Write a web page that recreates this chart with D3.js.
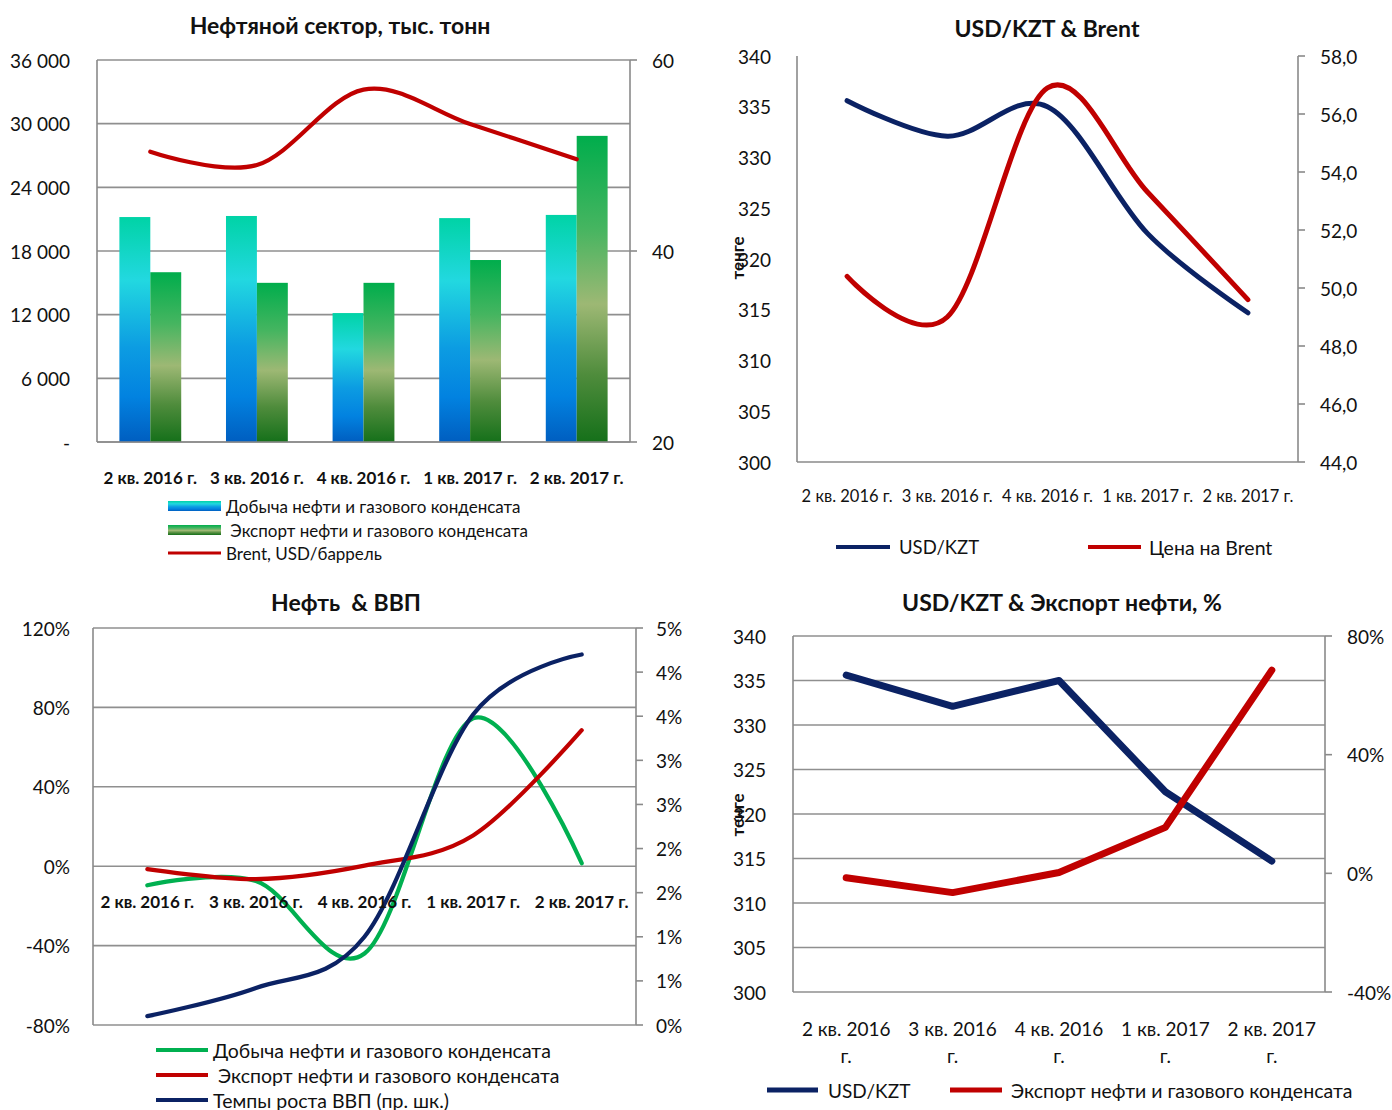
<!DOCTYPE html>
<html><head><meta charset="utf-8">
<script src="https://cdn.jsdelivr.net/npm/d3@7"></script>
<style>body{margin:0;background:#fff}svg{display:block}</style>
</head><body>
<script>
// ---------- DATA ----------
const categories = ["2 кв. 2016 г.", "3 кв. 2016 г.", "4 кв. 2016 г.", "1 кв. 2017 г.", "2 кв. 2017 г."];
const oilProduction = [21200, 21300, 12150, 21100, 21400];   // тыс. тонн
const oilExport = [16000, 15000, 15000, 17150, 28850];       // тыс. тонн
const brentPrice = [50.4, 49.0, 56.9, 53.3, 49.6];           // USD/баррель
const usdKzt = [335.6, 332.1, 335.0, 322.5, 314.7];          // тенге
const productionGrowth = [-9.6, -7.5, -44, 74.5, 1.5];       // %
const exportGrowth = [-1.5, -6.5, 0.3, 15.5, 68.5];          // %
const gdpGrowth = [0.1, 0.42, 1.0, 3.52, 4.2];               // %

const c1LeftTicks = [0, 6000, 12000, 18000, 24000, 30000, 36000];
const c1LeftLabels = ["-", "6 000", "12 000", "18 000", "24 000", "30 000", "36 000"];
const c1RightTicks = [20, 40, 60];
const c1RightLabels = ["20", "40", "60"];
const kztTicks = [300, 305, 310, 315, 320, 325, 330, 335, 340];
const kztLabels = ["300", "305", "310", "315", "320", "325", "330", "335", "340"];
const c2RightTicks = [44, 46, 48, 50, 52, 54, 56, 58];
const c2RightLabels = ["44,0", "46,0", "48,0", "50,0", "52,0", "54,0", "56,0", "58,0"];
const c3LeftTicks = [-80, -40, 0, 40, 80, 120];
const c3LeftLabels = ["-80%", "-40%", "0%", "40%", "80%", "120%"];
const c3RightTicks = [0, 0.5, 1, 1.5, 2, 2.5, 3, 3.5, 4, 4.5];
const c3RightLabels = ["0%", "1%", "1%", "2%", "2%", "3%", "3%", "4%", "4%", "5%"];
const c4RightTicks = [-40, 0, 40, 80];
const c4RightLabels = ["-40%", "0%", "40%", "80%"];

const titles = ["Нефтяной сектор, тыс. тонн", "USD/KZT & Brent", "Нефть  & ВВП", "USD/KZT & Экспорт нефти, %"];
const legend1 = ["Добыча нефти и газового конденсата", " Экспорт нефти и газового конденсата", "Brent, USD/баррель"];
const legend2 = ["USD/KZT", "Цена на Brent"];
const legend3 = ["Добыча нефти и газового конденсата", " Экспорт нефти и газового конденсата", "Темпы роста ВВП (пр. шк.)"];
const legend4 = ["USD/KZT", "Экспорт нефти и газового конденсата"];
const yTitle = "тенге";

// ---------- STYLE ----------
const FONT = "Lato, 'Open Sans', sans-serif";
const NAVY = "#0b2264", RED = "#c00000", GREEN = "#00b050";
const GRID = "#8f8f8f", AXIS = "#8a8a8a";

const svg = d3.select("body").append("svg").attr("width", 1392).attr("height", 1110)
  .style("font-family", FONT);

const defs = svg.append("defs");
function grad(id, stops) {
  const g = defs.append("linearGradient").attr("id", id).attr("x1", 0).attr("y1", 0).attr("x2", 0).attr("y2", 1);
  stops.forEach(([o, c]) => g.append("stop").attr("offset", o).attr("stop-color", c));
}
grad("gProd", [[0, "#00d3a6"], [0.28, "#22d8e0"], [0.58, "#0c9ce2"], [0.8, "#0282e0"], [1, "#005ec0"]]);
grad("gExp", [[0, "#00ad4c"], [0.3, "#45b560"], [0.55, "#9db874"], [0.78, "#4f8c3c"], [1, "#15701a"]]);

function text(x, y, s, o = {}) {
  return svg.append("text").attr("x", x).attr("y", y).text(s)
    .attr("font-size", o.size || 18).attr("font-weight", o.bold ? "bold" : "normal")
    .attr("text-anchor", o.anchor || "start").attr("dominant-baseline", "central")
    .attr("fill", o.fill || "#111")
    .attr("transform", o.rotate ? `rotate(${o.rotate},${x},${y})` : null)
    .style("white-space", "pre");
}
function hline(x0, x1, y, c = GRID, w = 1.6) {
  svg.append("line").attr("x1", x0).attr("x2", x1).attr("y1", y).attr("y2", y).attr("stroke", c).attr("stroke-width", w);
}
function vline(x, y0, y1, c = AXIS, w = 1.6) {
  svg.append("line").attr("x1", x).attr("x2", x).attr("y1", y0).attr("y2", y1).attr("stroke", c).attr("stroke-width", w);
}
function pointScale(x0, x1) {
  return d3.scaleBand().domain(categories).range([x0, x1]);
}
function smoothPath(xs, ys, vals, color, width, smooth = true) {
  const line = d3.line().x((d, i) => xs(categories[i]) + xs.bandwidth() / 2).y(d => ys(d))
    .curve(smooth ? d3.curveCatmullRom.alpha(0) : d3.curveLinear);
  svg.append("path").datum(vals).attr("d", line).attr("fill", "none").attr("stroke", color)
    .attr("stroke-width", width).attr("stroke-linecap", "round").attr("stroke-linejoin", "round");
}

// ================= CHART 1 =================
(function () {
  const X0 = 97, X1 = 630, Y0 = 60, Y1 = 442;
  const x = d3.scaleBand().domain(categories).range([X0, X1]).paddingInner(0.42).paddingOuter(0.21);
  const xi = d3.scaleBand().domain(["prod", "exp"]).range([0, x.bandwidth()]);
  const xc = pointScale(X0, X1);
  const yL = d3.scaleLinear().domain([0, 36000]).range([Y1, Y0]);
  const yR = d3.scaleLinear().domain([20, 60]).range([Y1, Y0]);

  text(340, 25, titles[0], { size: 23, bold: true, anchor: "middle" });
  c1LeftTicks.forEach((v, i) => { hline(X0, X1, yL(v)); text(70, yL(v), c1LeftLabels[i], { anchor: "end", size: 19 }); });
  vline(X0, Y0, Y1); vline(X1, Y0, Y1);
  c1RightTicks.forEach((v, i) => { hline(X1, X1 + 7, yR(v), AXIS); text(652, yR(v), c1RightLabels[i], { size: 19 }); });

  const bars = svg.append("g");
  categories.forEach((c, i) => {
    bars.append("rect").attr("x", x(c) + xi("prod")).attr("width", xi.bandwidth())
      .attr("y", yL(oilProduction[i])).attr("height", yL(0) - yL(oilProduction[i])).attr("fill", "url(#gProd)");
    bars.append("rect").attr("x", x(c) + xi("exp")).attr("width", xi.bandwidth())
      .attr("y", yL(oilExport[i])).attr("height", yL(0) - yL(oilExport[i])).attr("fill", "url(#gExp)");
  });
  hline(X0, X1, Y1, AXIS);
  smoothPath(xc, yR, brentPrice, RED, 4.2);
  categories.forEach(c => text(xc(c) + xc.bandwidth() / 2, 477, c, { size: 17, bold: true, anchor: "middle" }));

  // legend
  svg.append("rect").attr("x", 168).attr("y", 501).attr("width", 53).attr("height", 10).attr("fill", "url(#gProd)");
  svg.append("rect").attr("x", 168).attr("y", 525).attr("width", 53).attr("height", 10).attr("fill", "url(#gExp)");
  hline(168, 221, 553, RED, 3);
  text(226, 506, legend1[0], { size: 17 });
  text(226, 530, legend1[1], { size: 17 });
  text(226, 553, legend1[2], { size: 17 });
})();

// ================= CHART 2 =================
(function () {
  const X0 = 797, X1 = 1298, Y0 = 56, Y1 = 462;
  const xc = pointScale(X0, X1);
  const yL = d3.scaleLinear().domain([300, 340]).range([Y1, Y0]);
  const yR = d3.scaleLinear().domain([44, 58]).range([Y1, Y0]);
  text(1047, 28, titles[1], { size: 23, bold: true, anchor: "middle" });
  kztTicks.forEach((v, i) => text(771, yL(v), kztLabels[i], { anchor: "end", size: 19 }));
  c2RightTicks.forEach((v, i) => { hline(X1, X1 + 7, yR(v), AXIS); text(1320, yR(v), c2RightLabels[i], { size: 19 }); });
  vline(X0, Y0, Y1); vline(X1, Y0, Y1);
  hline(X0, X1, Y1, AXIS);
  text(737, 258, yTitle, { size: 17, bold: true, anchor: "middle", rotate: -90 });
  smoothPath(xc, yL, usdKzt, NAVY, 5);
  smoothPath(xc, yR, brentPrice, RED, 5);
  categories.forEach(c => text(xc(c) + xc.bandwidth() / 2, 496, c, { size: 16.5, anchor: "middle" }));
  hline(836, 890, 547, NAVY, 4); text(899, 547, legend2[0], { size: 18.5 });
  hline(1088, 1141, 547, RED, 4); text(1149, 547, legend2[1], { size: 19.5 });
})();

// ================= CHART 3 =================
(function () {
  const X0 = 93, X1 = 636, Y0 = 628, Y1 = 1025;
  const xc = pointScale(X0, X1);
  const yL = d3.scaleLinear().domain([-80, 120]).range([Y1, Y0]);
  const yR = d3.scaleLinear().domain([0, 4.5]).range([Y1, Y0]);
  text(346, 602, titles[2], { size: 23, bold: true, anchor: "middle" });
  c3LeftTicks.forEach((v, i) => { hline(X0, X1, yL(v)); text(70, yL(v), c3LeftLabels[i], { anchor: "end", size: 19 }); });
  vline(X0, Y0, Y1); vline(X1, Y0, Y1);
  c3RightTicks.forEach((v, i) => { hline(X1, X1 + 7, yR(v), AXIS); text(656, yR(v), c3RightLabels[i], { size: 19 }); });
  smoothPath(xc, yL, productionGrowth, GREEN, 4.2);
  smoothPath(xc, yL, exportGrowth, RED, 4.2);
  smoothPath(xc, yR, gdpGrowth, NAVY, 4.2);
  categories.forEach(c => text(xc(c) + xc.bandwidth() / 2, 901, c, { size: 17, bold: true, anchor: "middle" }));
  hline(156, 208, 1050, GREEN, 4); text(213, 1050, legend3[0], { size: 19.5 });
  hline(156, 208, 1075, RED, 4); text(213, 1075, legend3[1], { size: 19.5 });
  hline(156, 208, 1100, NAVY, 4); text(213, 1100, legend3[2], { size: 19.5 });
})();

// ================= CHART 4 =================
(function () {
  const X0 = 793, X1 = 1325, Y0 = 636, Y1 = 992;
  const xc = pointScale(X0, X1);
  const yL = d3.scaleLinear().domain([300, 340]).range([Y1, Y0]);
  const yR = d3.scaleLinear().domain([-40, 80]).range([Y1, Y0]);
  text(1062, 602, titles[3], { size: 23, bold: true, anchor: "middle" });
  kztTicks.forEach((v, i) => { hline(X0, X1, yL(v)); text(766, yL(v), kztLabels[i], { anchor: "end", size: 19 }); });
  vline(X0, Y0, Y1); vline(X1, Y0, Y1);
  c4RightTicks.forEach((v, i) => { hline(X1, X1 + 7, yR(v), AXIS); text(1347, yR(v), c4RightLabels[i], { size: 19 }); });
  text(737, 815, yTitle, { size: 17, bold: true, anchor: "middle", rotate: -90 });
  smoothPath(xc, yL, usdKzt, NAVY, 7, false);
  smoothPath(xc, yR, exportGrowth, RED, 7, false);
  categories.forEach(c => {
    const k = c.lastIndexOf(" ");
    const cx = xc(c) + xc.bandwidth() / 2;
    text(cx, 1028, c.slice(0, k), { size: 19, anchor: "middle" });
    text(cx, 1055, c.slice(k + 1), { size: 19, anchor: "middle" });
  });
  hline(767, 818, 1090, NAVY, 5); text(828, 1090, legend4[0], { size: 19 });
  hline(950, 1002, 1090, RED, 5); text(1011, 1090, legend4[1], { size: 19.5 });
})();
</script>
</body></html>
